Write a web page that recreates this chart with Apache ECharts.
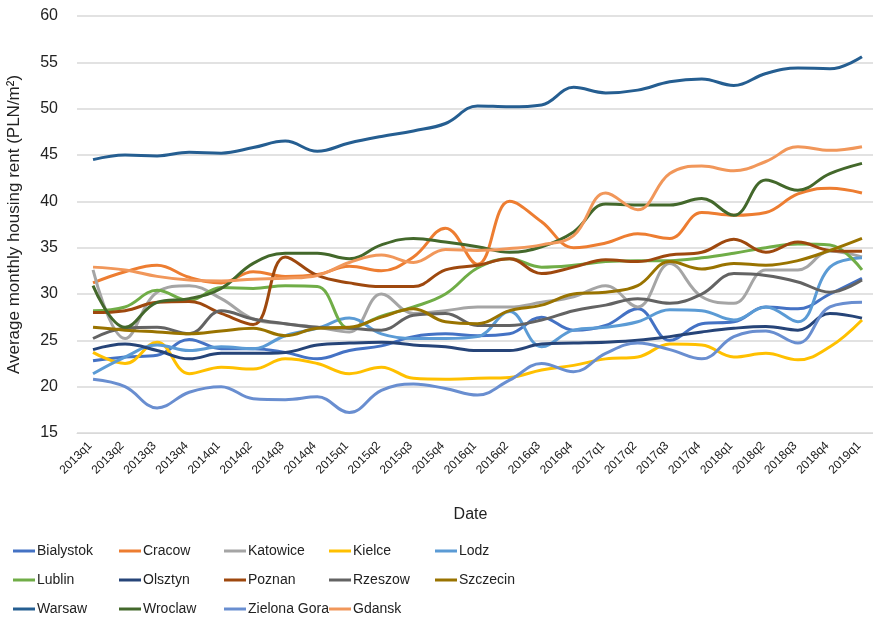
<!DOCTYPE html>
<html>
<head>
<meta charset="utf-8">
<script src="https://cdn.jsdelivr.net/npm/echarts@6/dist/echarts.min.js"></script>
<style>
  html, body { margin: 0; padding: 0; background: #fff; }
  #chart { width: 873px; height: 632px; }
</style>
</head>
<body>
<div id="chart"></div>
<script>
var quarters = ['2013q1', '2013q2', '2013q3', '2013q4', '2014q1', '2014q2', '2014q3', '2014q4',
    '2015q1', '2015q2', '2015q3', '2015q4', '2016q1', '2016q2', '2016q3', '2016q4',
    '2017q1', '2017q2', '2017q3', '2017q4', '2018q1', '2018q2', '2018q3', '2018q4', '2019q1'];

var bialystok = [22.8, 23.2, 23.4, 25.1, 24.1, 24.1, 23.7, 23.0, 23.9, 24.4, 25.4, 25.7, 25.5, 25.7, 27.5, 26.1, 26.6, 28.4, 25.0, 26.8, 27.0, 28.6, 28.4, 30.0, 31.7];
var cracow = [31.2, 32.4, 33.1, 31.8, 31.2, 32.4, 31.9, 32.1, 33.0, 32.5, 34.0, 37.1, 33.2, 40.0, 37.8, 35.0, 35.5, 36.5, 36.0, 38.8, 38.5, 38.8, 40.8, 41.4, 40.9];
var katowice = [32.6, 25.2, 30.2, 30.9, 29.5, 27.3, 26.8, 26.4, 25.9, 30.0, 27.9, 28.2, 28.6, 28.6, 29.1, 29.7, 30.9, 28.6, 33.3, 29.7, 29.0, 32.6, 32.6, 34.6, 34.0];
var kielce = [23.7, 22.5, 24.8, 21.4, 22.1, 21.9, 23.0, 22.5, 21.4, 22.1, 20.9, 20.8, 20.9, 21.0, 21.8, 22.3, 23.0, 23.2, 24.6, 24.5, 23.2, 23.6, 22.9, 24.3, 27.2];
var lodz = [21.4, 23.2, 24.5, 23.9, 24.3, 24.1, 25.5, 26.3, 27.4, 25.7, 25.2, 25.2, 25.4, 28.1, 24.3, 26.1, 26.4, 27.0, 28.3, 28.2, 27.2, 28.6, 27.0, 32.9, 33.9];
var lublin = [28.2, 28.6, 30.4, 29.3, 30.7, 30.6, 30.9, 30.8, 26.3, 27.6, 28.6, 30.0, 32.8, 33.8, 32.9, 33.1, 33.5, 33.6, 33.6, 33.9, 34.4, 35.0, 35.4, 35.3, 32.6];
var olsztyn = [24.0, 24.6, 23.9, 23.0, 23.6, 23.6, 23.7, 24.5, 24.7, 24.8, 24.5, 24.3, 23.9, 23.9, 24.6, 24.7, 24.8, 25.0, 25.4, 25.9, 26.3, 26.5, 26.1, 27.9, 27.4];
var poznan = [28.0, 28.2, 29.1, 29.2, 27.9, 26.7, 34.0, 32.0, 31.2, 30.8, 30.8, 32.6, 33.1, 33.8, 32.2, 32.9, 33.7, 33.5, 34.2, 34.5, 35.9, 34.5, 35.6, 34.7, 34.6];
var rzeszow = [25.2, 26.3, 26.4, 25.7, 28.2, 27.3, 26.8, 26.4, 26.3, 26.1, 27.7, 27.9, 26.6, 26.6, 27.2, 28.2, 28.8, 29.5, 29.0, 30.0, 32.2, 32.0, 31.3, 30.2, 31.5];
var szczecin = [26.4, 26.1, 25.9, 25.7, 26.0, 26.3, 25.5, 26.3, 26.4, 27.5, 28.4, 27.0, 26.8, 28.2, 28.8, 30.0, 30.2, 30.9, 33.5, 32.7, 33.3, 33.1, 33.6, 34.7, 36.0];
var warsaw = [44.5, 45.0, 44.9, 45.3, 45.2, 45.8, 46.5, 45.4, 46.3, 47.0, 47.6, 48.4, 50.3, 50.2, 50.4, 52.3, 51.7, 52.0, 52.9, 53.2, 52.5, 53.8, 54.4, 54.3, 55.6];
var wroclaw = [30.9, 26.4, 29.1, 29.5, 30.6, 33.3, 34.4, 34.4, 33.8, 35.3, 36.0, 35.6, 35.1, 34.5, 35.1, 36.7, 39.7, 39.6, 39.6, 40.3, 38.5, 42.3, 41.2, 43.0, 44.1];
var zielonaGora = [20.8, 20.0, 17.7, 19.4, 20.0, 18.7, 18.6, 18.9, 17.2, 19.6, 20.3, 19.8, 19.1, 20.7, 22.5, 21.6, 23.6, 24.7, 24.0, 23.0, 25.4, 26.0, 24.7, 28.6, 29.1];
var gdansk = [32.9, 32.6, 31.9, 31.5, 31.4, 31.6, 31.7, 32.0, 33.4, 34.2, 33.4, 34.8, 34.7, 34.9, 35.3, 36.3, 40.9, 39.1, 43.0, 43.8, 43.3, 44.3, 45.9, 45.5, 45.9];

var cities = ['Bialystok', 'Cracow', 'Katowice', 'Kielce', 'Lodz', 'Lublin', 'Olsztyn',
    'Poznan', 'Rzeszow', 'Szczecin', 'Warsaw', 'Wroclaw', 'Zielona Gora', 'Gdansk'];
var values = [bialystok, cracow, katowice, kielce, lodz, lublin, olsztyn,
    poznan, rzeszow, szczecin, warsaw, wroclaw, zielonaGora, gdansk];
var colors = ['#4472C4', '#ED7D31', '#A5A5A5', '#FFC000', '#5B9BD5', '#70AD47', '#264478',
    '#9E480E', '#636363', '#997300', '#255E91', '#43682B', '#698ED0', '#F1975A'];

var font = "'Liberation Sans Narrow', 'Arial Narrow', 'Liberation Sans', Arial, sans-serif";

var series = cities.map(function (name, i) {
    return {
        name: name,
        type: 'line',
        data: values[i],
        smooth: 0.4,
        showSymbol: false,
        lineStyle: { width: 3, color: colors[i] },
        itemStyle: { color: colors[i] }
    };
});

// 5 legend columns, rows of 3
var colLeft = [8, 114, 219, 324, 430];
var legends = colLeft.map(function (x, c) {
    var items = [];
    for (var r = 0; r < 3; r++) {
        var k = r * 5 + c;
        if (k < cities.length) items.push(cities[k]);
    }
    return {
        data: items,
        orient: 'vertical',
        left: x,
        top: 539,
        icon: 'rect',
        itemWidth: 22,
        itemHeight: 3,
        itemGap: 15,
        selectedMode: false,
        textStyle: { fontFamily: font, fontSize: 14, color: '#222', padding: [0, 0, 0, -3] }
    };
});

var chart = echarts.init(document.getElementById('chart'));
chart.setOption({
    animation: false,
    color: colors,
    grid: { left: 77, top: 16, width: 801, height: 417, outerBoundsMode: 'none', containLabel: false },
    legend: legends,
    xAxis: {
        type: 'category',
        data: quarters,
        boundaryGap: true,
        name: 'Date',
        nameLocation: 'middle',
        nameGap: 74,
        nameTextStyle: { fontFamily: font, fontSize: 16, color: '#222', padding: [0, 14, 0, 0] },
        axisLine: { lineStyle: { color: '#d9d9d9' } },
        axisTick: { show: false },
        axisLabel: { rotate: 45, interval: 0, fontFamily: font, fontSize: 12, color: '#222', margin: 8, padding: [0, 4, 0, 0] }
    },
    yAxis: {
        type: 'value',
        min: 15,
        max: 60,
        interval: 5,
        name: 'Average monthly housing rent (PLN/m²)',
        nameLocation: 'middle',
        nameGap: 54,
        nameTextStyle: { fontFamily: font, fontSize: 17, color: '#222' },
        axisLine: { show: false },
        axisTick: { show: false },
        splitLine: { lineStyle: { color: '#d9d9d9', width: 1.5 } },
        axisLabel: { fontFamily: font, fontSize: 16, color: '#222', margin: 19 }
    },
    series: series
});
</script>
</body>
</html>
